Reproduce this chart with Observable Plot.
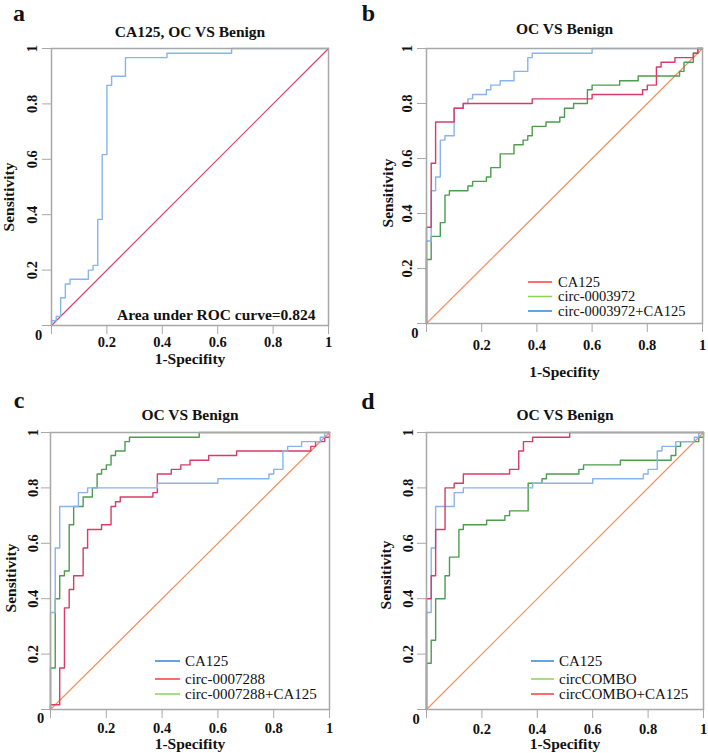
<!DOCTYPE html>
<html><head><meta charset="utf-8">
<script src="https://cdn.jsdelivr.net/npm/d3@7"></script>
<script src="https://cdn.jsdelivr.net/npm/@observablehq/plot@0.6"></script>
<style>
body{margin:0;background:#fff;}
#root{position:relative;width:708px;height:753px;overflow:hidden;font-family:'Liberation Serif','Times New Roman',serif;}
.panel{position:absolute;}
.panel svg{overflow:visible;}
.legend{position:absolute;left:0;top:0;overflow:visible;pointer-events:none;}
</style></head><body><div id="root"></div>
<script>
const FONT = "'Liberation Serif','Times New Roman',serif";

// ---- axis ticks ----
const tickValues = [0, 0.2, 0.4, 0.6, 0.8, 1];
const tickLabels = ["0", "0.2", "0.4", "0.6", "0.8", "1"];
const diagX = [0, 1];
const diagY = [0, 1];

// ---- panel a: CA125, OC vs Benign (step vertices) ----
const caA_fpr = [0, 0, 0.017, 0.033, 0.05, 0.067, 0.133, 0.15, 0.167, 0.183, 0.2, 0.217, 0.267, 0.417, 0.65, 1];
const caA_tpr = [0, 0.017, 0.033, 0.1, 0.15, 0.167, 0.2, 0.217, 0.383, 0.617, 0.867, 0.9, 0.967, 0.983, 1, 1];

// ---- CA125 curve shared by panels b, c, d ----
const ca125_fpr = [0, 0, 0.017, 0.033, 0.1, 0.133, 0.383, 0.6, 0.783, 0.8, 0.833, 0.85, 0.9, 0.967, 0.983, 1];
const ca125_tpr = [0, 0.35, 0.583, 0.733, 0.783, 0.8, 0.817, 0.833, 0.85, 0.867, 0.933, 0.95, 0.967, 0.983, 1, 1];

// ---- panel b ----
const c3972_fpr = [0, 0, 0.017, 0.05, 0.067, 0.083, 0.15, 0.167, 0.217, 0.233, 0.267, 0.317, 0.35, 0.367, 0.383, 0.433, 0.483, 0.5, 0.533, 0.583, 0.6, 0.7, 0.767, 0.917, 0.933, 0.967, 0.983, 1];
const c3972_tpr = [0, 0.233, 0.317, 0.367, 0.467, 0.483, 0.5, 0.517, 0.533, 0.567, 0.617, 0.65, 0.667, 0.683, 0.717, 0.733, 0.75, 0.783, 0.8, 0.85, 0.867, 0.883, 0.9, 0.917, 0.95, 0.983, 1, 1];
const c3972ca_fpr = [0, 0, 0.017, 0.033, 0.05, 0.067, 0.1, 0.133, 0.15, 0.167, 0.217, 0.233, 0.267, 0.317, 0.367, 0.383, 0.6, 1];
const c3972ca_tpr = [0, 0.3, 0.483, 0.533, 0.667, 0.683, 0.783, 0.8, 0.817, 0.833, 0.85, 0.867, 0.883, 0.917, 0.967, 0.983, 1, 1];

// ---- panel c ----
const c7288_fpr = [0, 0, 0.033, 0.05, 0.067, 0.083, 0.117, 0.133, 0.183, 0.217, 0.233, 0.25, 0.367, 0.383, 0.433, 0.467, 0.5, 0.567, 0.667, 0.933, 0.95, 0.983, 1];
const c7288_tpr = [0, 0.017, 0.15, 0.367, 0.433, 0.483, 0.583, 0.65, 0.667, 0.733, 0.75, 0.767, 0.783, 0.85, 0.867, 0.883, 0.9, 0.917, 0.933, 0.95, 0.967, 0.983, 1];
const c7288ca_fpr = [0, 0, 0.017, 0.033, 0.05, 0.067, 0.083, 0.117, 0.15, 0.167, 0.183, 0.2, 0.217, 0.233, 0.267, 0.283, 0.533, 1];
const c7288ca_tpr = [0, 0.15, 0.4, 0.483, 0.5, 0.667, 0.733, 0.767, 0.8, 0.85, 0.867, 0.883, 0.917, 0.933, 0.967, 0.983, 1, 1];

// ---- panel d ----
const combo_fpr = [0, 0, 0.017, 0.033, 0.067, 0.083, 0.117, 0.133, 0.217, 0.283, 0.3, 0.367, 0.417, 0.433, 0.55, 0.567, 0.7, 0.883, 0.9, 0.917, 0.983, 1];
const combo_tpr = [0, 0.167, 0.25, 0.4, 0.483, 0.55, 0.65, 0.667, 0.683, 0.7, 0.717, 0.817, 0.833, 0.85, 0.867, 0.883, 0.9, 0.917, 0.95, 0.967, 0.983, 1];
const comboca_fpr = [0, 0, 0.017, 0.033, 0.067, 0.1, 0.133, 0.3, 0.333, 0.35, 0.383, 0.517, 1];
const comboca_tpr = [0, 0.4, 0.483, 0.65, 0.8, 0.817, 0.85, 0.867, 0.933, 0.967, 0.983, 1, 1];

// ---- text ----
const panelLetters = ["a", "b", "c", "d"];
const panelTitles = ["CA125, OC VS Benign", "OC VS Benign", "OC VS Benign", "OC VS Benign"];
const xAxisLabel = "1-Specifity";
const yAxisLabel = "Sensitivity";
const aucNote = "Area under ROC curve=0.824";
const legendB = ["CA125", "circ-0003972", "circ-0003972+CA125"];
const legendC = ["CA125", "circ-0007288", "circ-0007288+CA125"];
const legendD = ["CA125", "circCOMBO", "circCOMBO+CA125"];

// ---- colours ----
const lineBlue = "#88b4ee", lineRed = "#da3b66", lineGreen = "#4e9c4e", diagOrange = "#f2905e", diagRed = "#e53a68";
const keyRed = "#ff3b3b", keyGreen = "#8ed25a", keyBlue = "#2f86dc";

const panels = [
  {left: 0, top: 0, w: 354, h: 376, m: [48, 26, 51, 51], diag: diagRed,
   series: [{fpr: caA_fpr, tpr: caA_tpr, color: lineBlue}],
   letterDx: -32.5, letterDy: -35, titleDy: -16, xTickDy: 17, yTickDx: -19.3, zeroDx: -13, zeroDy: 10,
   xLabelDy: 34, yLabelDx: -42.5, yLabelDy: 10, note: true},
  {left: 354, top: 0, w: 354, h: 376, m: [48, 6, 53, 72], diag: diagOrange,
   series: [{fpr: c3972_fpr, tpr: c3972_tpr, color: lineGreen}, {fpr: c3972ca_fpr, tpr: c3972ca_tpr, color: lineBlue}, {fpr: ca125_fpr, tpr: ca125_tpr, color: lineRed}],
   letterDx: -58, letterDy: -35, titleDy: -19.5, xTickDy: 22, yTickDx: -19.5, zeroDx: -11.7, zeroDy: 10,
   xLabelDy: 49, yLabelDx: -38.5, yLabelDy: 7,
   legend: {names: legendB, colors: [keyRed, keyGreen, keyBlue], x1: 174, x2: 198, tx: 204, rows: [282, 296.5, 311], size: 14.5}},
  {left: 0, top: 376, w: 354, h: 377, m: [56, 25, 44, 50], diag: diagOrange,
   series: [{fpr: c7288_fpr, tpr: c7288_tpr, color: lineRed}, {fpr: c7288ca_fpr, tpr: c7288ca_tpr, color: lineGreen}, {fpr: ca125_fpr, tpr: ca125_tpr, color: lineBlue}],
   letterDx: -31.5, letterDy: -32, titleDy: -17.5, xTickDy: 19, yTickDx: -17.5, zeroDx: -10, zeroDy: 9,
   xLabelDy: 34.5, yLabelDx: -39.8, yLabelDy: 7,
   legend: {names: legendC, colors: [keyBlue, keyRed, keyGreen], x1: 155, x2: 180, tx: 185, rows: [285, 303, 318], size: 15}},
  {left: 354, top: 376, w: 354, h: 377, m: [56, 5, 44, 72], diag: diagOrange,
   series: [{fpr: combo_fpr, tpr: combo_tpr, color: lineGreen}, {fpr: ca125_fpr, tpr: ca125_tpr, color: lineBlue}, {fpr: comboca_fpr, tpr: comboca_tpr, color: lineRed}],
   letterDx: -58.5, letterDy: -31, titleDy: -17.5, xTickDy: 19.5, yTickDx: -17.8, zeroDx: -10.3, zeroDy: 10,
   xLabelDy: 35, yLabelDx: -40, yLabelDy: 4,
   legend: {names: legendD, colors: [keyBlue, keyGreen, keyRed], x1: 177, x2: 200, tx: 205, rows: [285, 303, 318], size: 15}}
];

const root = document.getElementById("root");
const bold = {fontWeight: "bold", fontFamily: FONT, fill: "#111"};
const labelOf = d => tickLabels[tickValues.indexOf(d)];
const inner = tickValues.slice(1);

panels.forEach((p, i) => {
  const marks = [
    Plot.line(diagX, {x: diagX, y: diagY, stroke: p.diag, strokeWidth: 1.2}),
    ...p.series.map(s => Plot.line(s.fpr, {x: s.fpr, y: s.tpr, curve: "step-after", stroke: s.color, strokeWidth: 1.4})),
    Plot.frame({stroke: "#a8a8a8", strokeWidth: 1.5}),
    Plot.text(inner, {x: d => d, y: () => 0, text: labelOf, dy: p.xTickDy, fontSize: 14.5, ...bold}),
    Plot.text(inner, {x: () => 0, y: d => d, text: labelOf, rotate: -90, dx: p.yTickDx, fontSize: 14.5, ...bold}),
    Plot.text([tickLabels[0]], {x: () => 0, y: () => 0, text: d => d, dx: p.zeroDx, dy: p.zeroDy, fontSize: 14.5, ...bold}),
    Plot.text([xAxisLabel], {x: () => 0.5, y: () => 0, text: d => d, dy: p.xLabelDy, fontSize: 15.5, ...bold}),
    Plot.text([yAxisLabel], {x: () => 0, y: () => 0.5, text: d => d, rotate: -90, dx: p.yLabelDx, dy: p.yLabelDy, fontSize: 15.5, ...bold}),
    Plot.text([panelTitles[i]], {x: () => 0.5, y: () => 1, text: d => d, dy: p.titleDy, fontSize: 15.5, ...bold}),
    Plot.text([panelLetters[i]], {x: () => 0, y: () => 1, text: d => d, dx: p.letterDx, dy: p.letterDy, fontSize: 24, ...bold})
  ];
  if (p.note) {
    marks.push(Plot.text([aucNote], {x: () => 1, y: () => 0, text: d => d, textAnchor: "end", dx: -13, dy: -10, fontSize: 15.5, ...bold}));
  }
  const chart = Plot.plot({
    width: p.w, height: p.h,
    marginTop: p.m[0], marginRight: p.m[1], marginBottom: p.m[2], marginLeft: p.m[3],
    x: {domain: [0, 1], ticks: tickValues, tickSize: 9, tickFormat: () => "", label: null},
    y: {domain: [0, 1], ticks: tickValues, tickSize: 9, tickFormat: () => "", label: null},
    style: {overflow: "visible", background: "transparent", color: "#a8a8a8", fontFamily: FONT},
    marks
  });
  const div = document.createElement("div");
  div.className = "panel";
  div.style.left = p.left + "px";
  div.style.top = p.top + "px";
  div.style.width = p.w + "px";
  div.style.height = p.h + "px";
  div.appendChild(chart);
  if (p.legend) {
    const L = p.legend;
    const svg = d3.create("svg").attr("class", "legend").attr("width", p.w).attr("height", p.h);
    L.names.forEach((name, k) => {
      svg.append("line").attr("x1", L.x1).attr("x2", L.x2).attr("y1", L.rows[k]).attr("y2", L.rows[k])
        .attr("stroke", L.colors[k]).attr("stroke-width", 1.5);
      svg.append("text").attr("x", L.tx).attr("y", L.rows[k] + L.size / 3).attr("font-size", L.size)
        .attr("font-family", FONT).attr("fill", "#111").text(name);
    });
    div.appendChild(svg.node());
  }
  root.appendChild(div);
});
</script>
</body></html>
